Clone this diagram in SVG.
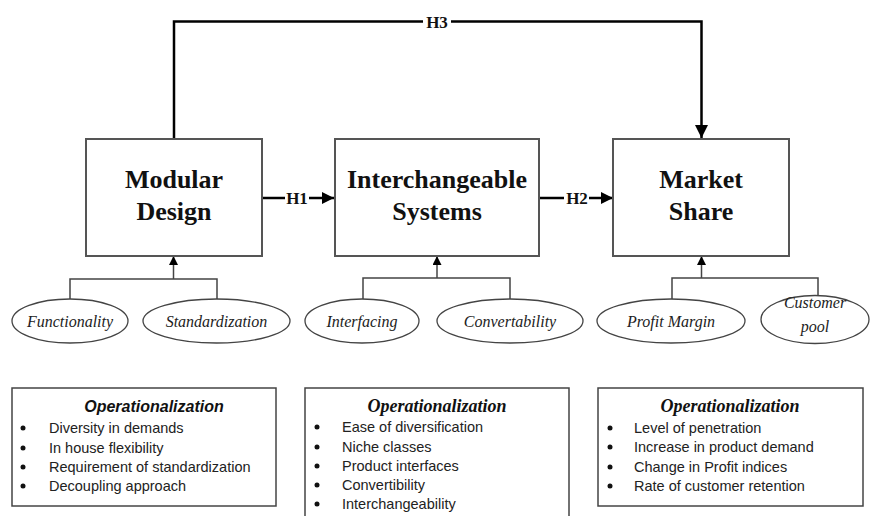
<svg xmlns="http://www.w3.org/2000/svg" width="871" height="516" viewBox="0 0 871 516">
<defs>
<marker id="ahb" viewBox="0 0 10 10" refX="10" refY="5" markerWidth="13" markerHeight="12" markerUnits="userSpaceOnUse" orient="auto"><path d="M0,0 L10,5 L0,10 z" fill="#000"/></marker>
<marker id="ahl" viewBox="0 0 10 10" refX="10" refY="5" markerWidth="20" markerHeight="13" markerUnits="userSpaceOnUse" orient="auto"><path d="M0,0 L10,5 L0,10 z" fill="#000"/></marker>
<marker id="ahs" viewBox="0 0 10 10" refX="10" refY="5" markerWidth="11" markerHeight="9" markerUnits="userSpaceOnUse" orient="auto"><path d="M0,0 L10,5 L0,10 z" fill="#000"/></marker>
</defs>
<style>
.box{fill:#fff;stroke:#555;stroke-width:2}
.main{font-family:"Liberation Serif",serif;font-weight:bold;font-size:26px;fill:#111;text-anchor:middle}
.h{font-family:"Liberation Serif",serif;font-weight:bold;font-size:17px;fill:#111;text-anchor:middle}
.conn{fill:none;stroke:#000;stroke-width:2.5}
.br{fill:none;stroke:#444;stroke-width:1.5}
.ell{fill:#fff;stroke:#444;stroke-width:1.3}
.et{font-family:"Liberation Serif",serif;font-style:italic;font-size:16px;fill:#222;text-anchor:middle}
.op{fill:#fff;stroke:#444;stroke-width:1.5}
.ops{font-family:"Liberation Sans",sans-serif;font-weight:bold;font-style:italic;font-size:16px;fill:#111;text-anchor:middle}
.opt{font-family:"Liberation Serif",serif;font-weight:bold;font-style:italic;font-size:18px;fill:#111;text-anchor:middle}
.li{font-family:"Liberation Sans",sans-serif;font-size:14.5px;fill:#222}
.bu{fill:#111}
</style>
<rect width="871" height="516" fill="#fff"/>
<g id="connectors">
<path class="conn" d="M174,139 V21.5 H423 M451,21.5 H701.5 V138" marker-end="url(#ahl)"/>
<text class="h" x="437" y="28">H3</text>
<path class="conn" d="M262,198 H285"/>
<text class="h" x="297" y="204">H1</text>
<path class="conn" d="M309,198 H334" marker-end="url(#ahb)"/>
<path class="conn" d="M539,198 H564"/>
<text class="h" x="577" y="204">H2</text>
<path class="conn" d="M589,198 H613" marker-end="url(#ahb)"/>
<path class="br" d="M70,300 V279 H217 V300"/>
<path class="br" d="M173.5,279 V256" marker-end="url(#ahs)"/>
<path class="br" d="M363,300 V278 H510 V300"/>
<path class="br" d="M437,278 V256" marker-end="url(#ahs)"/>
<path class="br" d="M672,300 V278 H818 V296"/>
<path class="br" d="M701.5,278 V256" marker-end="url(#ahs)"/>
</g>
<g id="modular-design">
<rect class="box" x="86" y="139" width="176" height="117"/>
<text class="main" x="174" y="188">Modular</text>
<text class="main" x="174" y="220">Design</text>
</g>
<g id="interchangeable-systems">
<rect class="box" x="335" y="139" width="204" height="117"/>
<text class="main" x="437" y="188">Interchangeable</text>
<text class="main" x="437" y="220">Systems</text>
</g>
<g id="market-share">
<rect class="box" x="613" y="139" width="176" height="117"/>
<text class="main" x="701" y="188">Market</text>
<text class="main" x="701" y="220">Share</text>
</g>
<g id="functionality">
<ellipse class="ell" cx="70" cy="321" rx="58" ry="22"/>
<text class="et" x="70" y="327">Functionality</text>
</g>
<g id="standardization">
<ellipse class="ell" cx="216.5" cy="321" rx="73.5" ry="22"/>
<text class="et" x="216.5" y="327">Standardization</text>
</g>
<g id="interfacing">
<ellipse class="ell" cx="362" cy="321" rx="57" ry="22"/>
<text class="et" x="362" y="327">Interfacing</text>
</g>
<g id="convertability">
<ellipse class="ell" cx="510" cy="321" rx="73" ry="22"/>
<text class="et" x="510" y="327">Convertability</text>
</g>
<g id="profit-margin">
<ellipse class="ell" cx="671" cy="321" rx="74" ry="22"/>
<text class="et" x="671" y="327">Profit Margin</text>
</g>
<g id="customer-pool">
<ellipse class="ell" cx="815" cy="319.5" rx="54" ry="24"/>
<text class="et" x="815" y="308">Customer</text>
<text class="et" x="815" y="332">pool</text>
</g>
<g id="op-modular">
<rect class="op" x="12" y="388" width="264" height="118"/>
<text class="ops" x="154" y="412">Operationalization</text>
<circle class="bu" cx="23" cy="428" r="2.5"/><text class="li" x="49" y="433">Diversity in demands</text>
<circle class="bu" cx="23" cy="448" r="2.5"/><text class="li" x="49" y="453">In house flexibility</text>
<circle class="bu" cx="23" cy="467" r="2.5"/><text class="li" x="49" y="472">Requirement of standardization</text>
<circle class="bu" cx="23" cy="486" r="2.5"/><text class="li" x="49" y="491">Decoupling approach</text>
</g>
<g id="op-interchangeable">
<path class="op" d="M305,520 V388 H569 V520"/>
<text class="opt" x="437" y="412">Operationalization</text>
<circle class="bu" cx="317" cy="427" r="2.5"/><text class="li" x="342" y="432">Ease of diversification</text>
<circle class="bu" cx="317" cy="447" r="2.5"/><text class="li" x="342" y="452">Niche classes</text>
<circle class="bu" cx="317" cy="466" r="2.5"/><text class="li" x="342" y="471">Product interfaces</text>
<circle class="bu" cx="317" cy="485" r="2.5"/><text class="li" x="342" y="490">Convertibility</text>
<circle class="bu" cx="317" cy="504" r="2.5"/><text class="li" x="342" y="509">Interchangeability</text>
</g>
<g id="op-market">
<rect class="op" x="598" y="388" width="265" height="118"/>
<text class="opt" x="730" y="412">Operationalization</text>
<circle class="bu" cx="610" cy="428" r="2.5"/><text class="li" x="634" y="433">Level of penetration</text>
<circle class="bu" cx="610" cy="447" r="2.5"/><text class="li" x="634" y="452">Increase in product demand</text>
<circle class="bu" cx="610" cy="467" r="2.5"/><text class="li" x="634" y="472">Change in Profit indices</text>
<circle class="bu" cx="610" cy="486" r="2.5"/><text class="li" x="634" y="491">Rate of customer retention</text>
</g>
</svg>
